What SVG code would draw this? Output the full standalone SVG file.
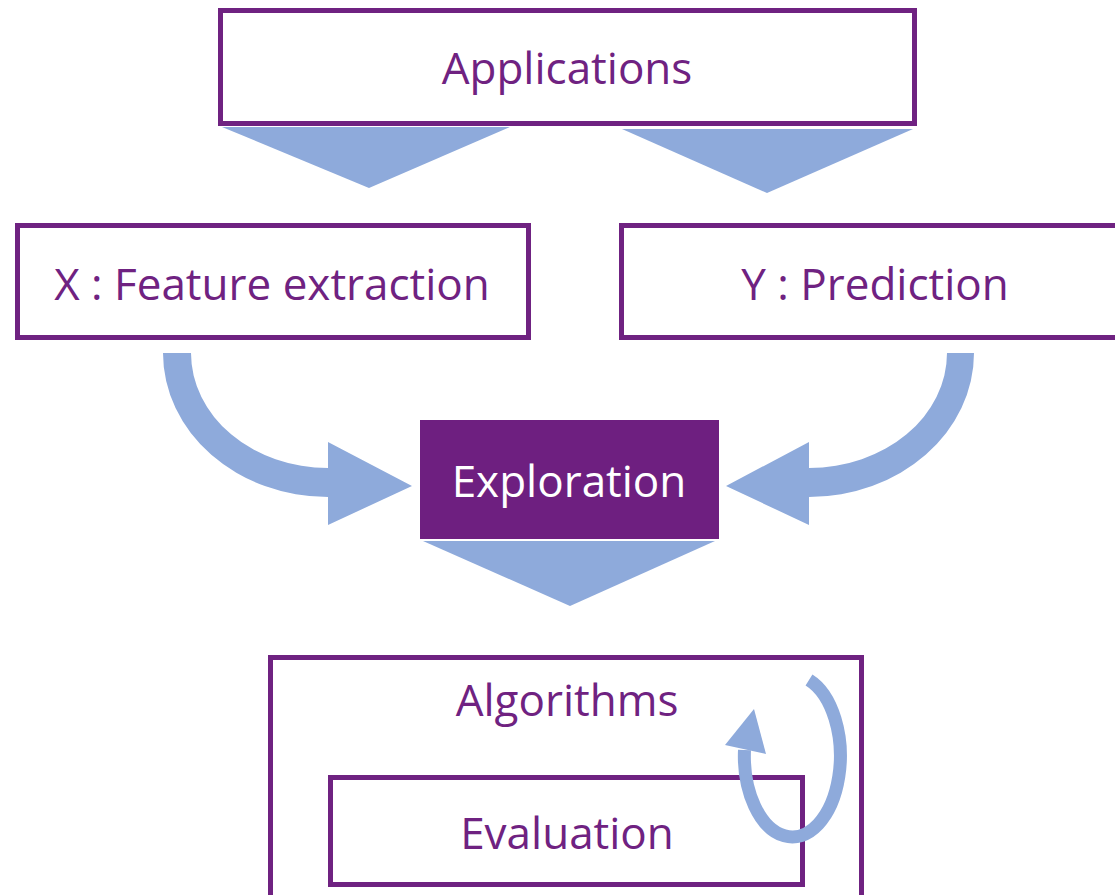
<svg xmlns="http://www.w3.org/2000/svg" width="1115" height="895" viewBox="0 0 1115 895">
<style>
.box{fill:#fff;stroke:#6F2281;stroke-width:5}
.fill{fill:#6E1F80;stroke:none}
.t{font-family:"Open Sans","Liberation Sans",sans-serif;font-size:44px;fill:#6F2281;text-anchor:middle}
.tw{fill:#fff}
.arr{fill:#8EAADB;stroke:none}
.loop{fill:none;stroke:#8EAADB;stroke-width:13}
</style>
<rect width="1115" height="895" fill="#fff"/>
<g id="applications"><rect class="box" x="220.5" y="10.5" width="694" height="113"/><text class="t" x="567" y="84">Applications</text></g>
<g id="feature"><rect class="box" x="17.5" y="225.5" width="511" height="112"/><text class="t" x="272" y="300">X : Feature extraction</text></g>
<g id="prediction"><rect class="box" x="621.5" y="225.5" width="510" height="112"/><text class="t" x="875" y="300">Y : Prediction</text></g>
<g id="exploration"><rect class="fill" x="420" y="420" width="299" height="119"/><text class="t tw" x="569" y="497">Exploration</text></g>
<g id="algorithms"><rect class="box" x="270.5" y="657.5" width="591" height="250"/><text class="t" x="567" y="716">Algorithms</text></g>
<g id="evaluation"><rect class="box" x="330.5" y="777.5" width="472" height="107"/><text class="t" x="567" y="849">Evaluation</text></g>
<g id="connectors">
<polygon class="arr" points="222,127 510,127 369,188"/>
<polygon class="arr" points="622,129 913,129 767,193"/>
<polygon class="arr" points="423,541 715,541 570,606"/>
<path class="arr" d="M163,353 A165,144 0 0 0 328,497 L328,525 L412,486 L328,442 L328,468 A137,115 0 0 1 191,353 Z"/>
<path class="arr" d="M974,353 A165,144 0 0 1 809,497 L809,525 L726,486 L809,442 L809,468 A138,115 0 0 0 947,353 Z"/>
<path class="loop" d="M809,680 A48,81 0 1 1 744.5,750"/>
<polygon class="arr" points="725,745 766,754 754,709"/>
</g>
</svg>
